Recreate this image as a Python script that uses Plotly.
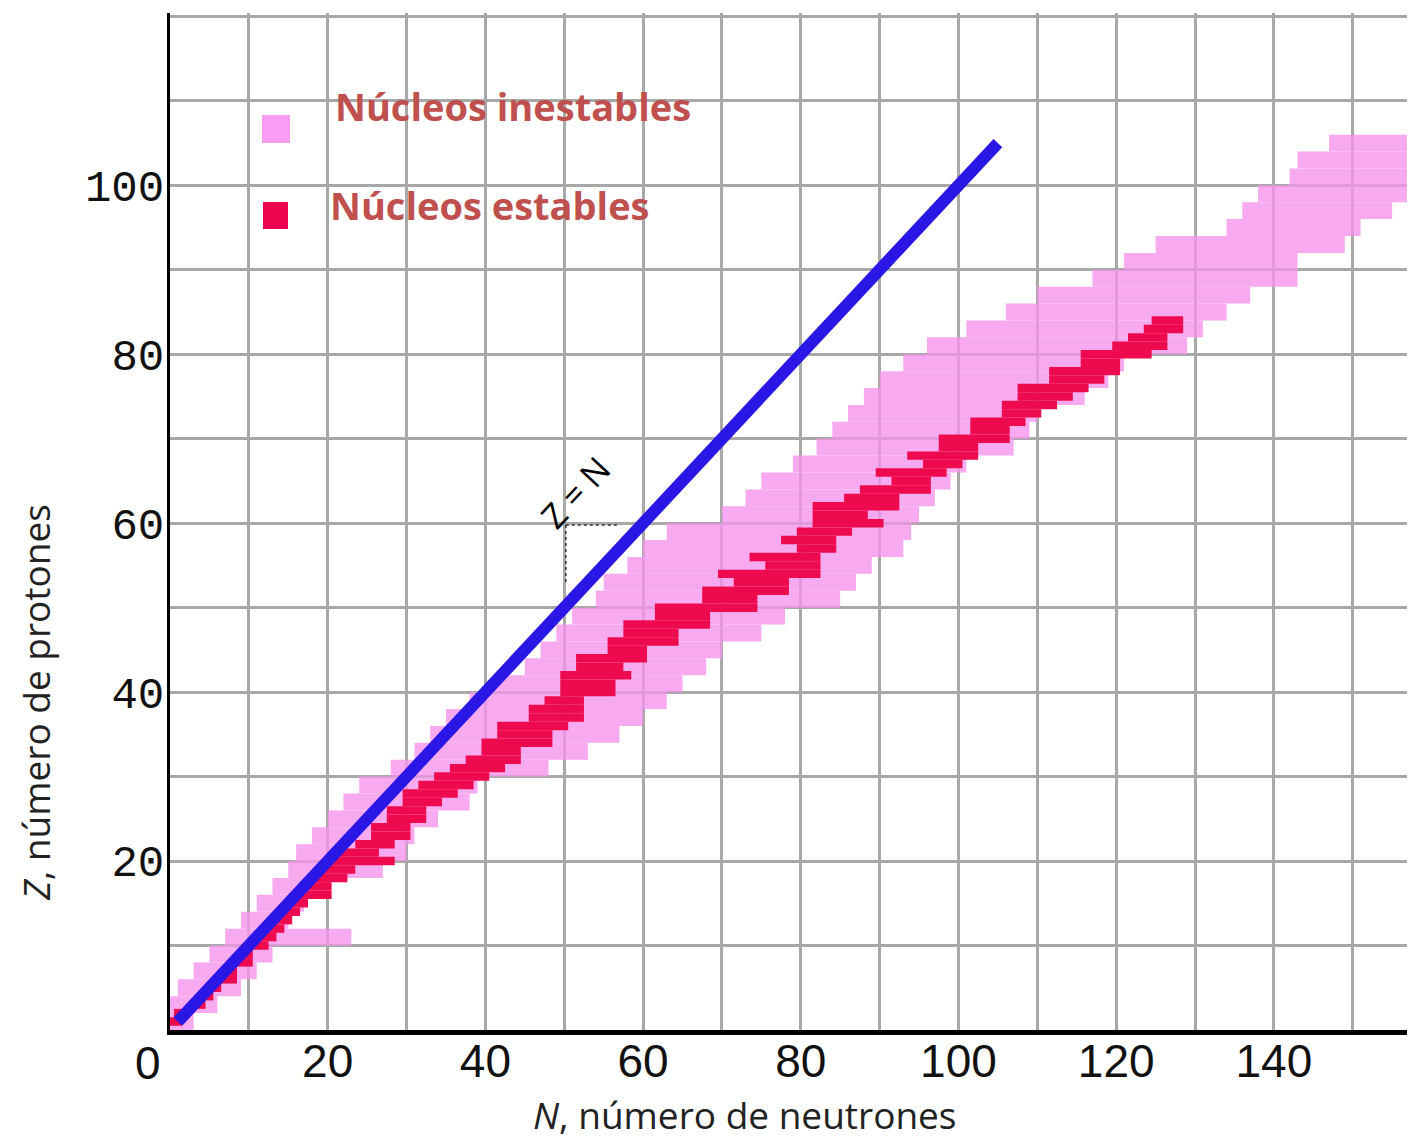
import plotly.graph_objects as go

# ---------------- data ----------------
# Unstable nuclei band: one row per pair of Z values (Z_lo .. Z_lo+2)
unstable_z_lo = [0, 2, 4, 6, 8, 10, 12, 14, 16, 18, 20, 22, 24, 26, 28, 30, 32, 34,
                 36, 38, 40, 42, 44, 46, 48, 50, 52, 54, 56, 58, 60, 62, 64, 66, 68,
                 70, 72, 74, 76, 78, 80, 82, 84, 86, 88, 90, 92, 94, 96, 98, 100, 102, 104]
unstable_n_min = [0, 0, 1, 3, 5, 7, 9, 11, 13, 15, 16, 18, 20, 22, 24, 28, 31, 33,
                  35, 38, 41, 45, 47, 49, 51, 54, 55, 58, 60, 63, 70, 73, 75, 79, 82,
                  84, 86, 88, 90, 93, 96, 101, 106, 110, 117, 121, 125, 134, 136, 138, 142, 143, 147]
unstable_n_max = [3, 6, 9, 11, 13, 23, 15, 17, 20, 27, 30, 31, 34, 38, 39, 48, 53, 57,
                  60, 63, 65, 68, 70, 75, 78, 85, 87, 89, 93, 94, 95, 97, 99, 101, 107,
                  109, 110, 116, 119, 121, 129, 131, 134, 137, 143, 143, 149, 151, 155, 158, 160, 160, 160]

# Stable nuclei: for each Z, lowest and highest N drawn in red
stable_z = list(range(1, 85))
stable_n_min = [0, 1, 3, 4, 5, 6, 7, 8, 9, 10, 11, 12, 13, 14, 15, 16, 17, 18, 20, 20,
                22, 24, 26, 26, 28, 28, 30, 30, 32, 34, 36, 38, 40, 40, 42, 42, 46, 46, 48, 50,
                50, 50, 52, 52, 56, 56, 58, 58, 62, 62, 68, 68, 72, 70, 76, 74, 80, 78, 80, 82,
                82, 82, 86, 88, 92, 90, 96, 94, 98, 98, 102, 102, 106, 106, 108, 108, 112, 112, 116, 116,
                120, 122, 124, 125]
stable_n_max = [1, 2, 4, 5, 6, 8, 8, 10, 10, 12, 13, 14, 15, 16, 17, 20, 20, 22, 23, 28,
                26, 28, 30, 30, 32, 32, 34, 36, 38, 40, 42, 44, 44, 48, 48, 50, 52, 52, 52, 56,
                56, 58, 57, 60, 60, 64, 64, 68, 68, 74, 74, 78, 78, 82, 82, 82, 84, 84, 86, 90,
                88, 92, 92, 96, 96, 98, 100, 102, 102, 106, 106, 108, 110, 112, 114, 116, 118, 120, 120, 124,
                126, 126, 128, 128]

# Z = N reference line
line_n = [1, 105]
line_z = [1, 105]

# axis ticks
x_tickvals = [10, 20, 30, 40, 50, 60, 70, 80, 90, 100, 110, 120, 130, 140, 150]
x_ticktext = ["", "20", "", "40", "", "60", "", "80", "", "100", "", "120", "", "140", ""]
y_tickvals = [10, 20, 30, 40, 50, 60, 70, 80, 90, 100, 110, 120]
y_ticktext = ["", "20", "", "40", "", "60", "", "80", "", "100", "", ""]

# ---------------- styling ----------------
PINK = "#F695EC"
RED = "#EE0A4E"
BLUE = "#2B17E5"
GRID = "#A8A8A8"
LEG_TXT = "#C0504D"
XFONT = "Liberation Sans Narrow, Liberation Sans, Arial"

fig = go.Figure()

fig.add_trace(go.Bar(
    orientation="h",
    y=[z + 1 for z in unstable_z_lo],
    x=[hi - lo for lo, hi in zip(unstable_n_min, unstable_n_max)],
    base=unstable_n_min,
    width=2,
    marker=dict(color=PINK, line=dict(width=0)),
    opacity=0.8,
    name="Núcleos inestables",
    showlegend=False,
    hoverinfo="skip",
))

fig.add_trace(go.Bar(
    orientation="h",
    y=stable_z,
    x=[hi - lo + 1 for lo, hi in zip(stable_n_min, stable_n_max)],
    base=[lo - 0.5 for lo in stable_n_min],
    width=1,
    marker=dict(color=RED, line=dict(width=0)),
    opacity=1,
    name="Núcleos estables",
    showlegend=False,
    hoverinfo="skip",
))

fig.add_trace(go.Scatter(
    x=line_n, y=line_z, mode="lines",
    line=dict(color=BLUE, width=12),
    showlegend=False, hoverinfo="skip",
))

# page body has an 8px margin: figure is placed at (8, 8) in the window
OFF = 8
W, H = 1415 - OFF, 1140 - OFF
L, R, T, B = 170 - OFF, 0, 13 - OFF, 110

fig.update_layout(
    width=W, height=H,
    margin=dict(l=L, r=R, t=T, b=B, pad=0),
    paper_bgcolor="white", plot_bgcolor="white",
    barmode="overlay",
    showlegend=False,
    xaxis=dict(
        range=[0, 157.9], tickmode="array", tickvals=x_tickvals, ticktext=x_ticktext,
        showgrid=True, gridcolor=GRID, gridwidth=3, zeroline=False,
        showline=True, linecolor="black", linewidth=5, ticks="",
        ticklabelstandoff=-13,
        tickfont=dict(family=XFONT, size=46, color="#111"),
        fixedrange=True,
    ),
    yaxis=dict(
        range=[0, 120.4], tickmode="array", tickvals=y_tickvals, ticktext=y_ticktext,
        showgrid=True, gridcolor=GRID, gridwidth=3, zeroline=False,
        showline=True, linecolor="black", linewidth=3, ticks="",
        ticklabelstandoff=-6,
        tickfont=dict(family="Liberation Mono, DejaVu Sans Mono, monospace", size=44, color="#111"),
        fixedrange=True,
    ),
)

def px_to_paper(px, py):
    """page pixel -> paper coordinates"""
    fx, fy = px - OFF, py - OFF
    return (fx - L) / (W - L - R), (H - B - fy) / (H - T - B)

annotations = []
# axis titles
ax, ay = px_to_paper(745, 1114)
annotations.append(dict(xref="paper", yref="paper", x=ax, y=ay, xanchor="center", yanchor="middle",
                        showarrow=False, text="<i>N</i>, número de neutrones",
                        font=dict(family="Open Sans", size=37, color="#222")))
ax, ay = px_to_paper(35, 703)
annotations.append(dict(xref="paper", yref="paper", x=ax, y=ay, xanchor="center", yanchor="middle",
                        showarrow=False, textangle=-90, text="<i>Z</i>, número de protones",
                        font=dict(family="Open Sans", size=37, color="#222")))
# corner "0"
ax, ay = px_to_paper(148, 1063)
annotations.append(dict(xref="paper", yref="paper", x=ax, y=ay, xanchor="center", yanchor="middle",
                        showarrow=False, text="0", font=dict(family=XFONT, size=46, color="#111")))
# legend texts
ax, ay = px_to_paper(333, 106)
annotations.append(dict(xref="paper", yref="paper", x=ax, y=ay, xanchor="left", yanchor="middle",
                        showarrow=False, text="<b>Núcleos inestables</b>",
                        font=dict(family="Open Sans", size=38, color=LEG_TXT)))
ax, ay = px_to_paper(328, 205)
annotations.append(dict(xref="paper", yref="paper", x=ax, y=ay, xanchor="left", yanchor="middle",
                        showarrow=False, text="<b>Núcleos estables</b>",
                        font=dict(family="Open Sans", size=38, color=LEG_TXT)))
# Z = N label along the line
annotations.append(dict(xref="x", yref="y", x=51.4, y=63.7, xanchor="center", yanchor="middle",
                        showarrow=False, textangle=-47,
                        text="Z = N", font=dict(family="Open Sans", size=34, color="black")))
fig.update_layout(annotations=annotations)

shapes = []
x0, y0 = px_to_paper(262, 143); x1, y1 = px_to_paper(290, 115)
shapes.append(dict(type="rect", xref="paper", yref="paper", x0=x0, y0=y0, x1=x1, y1=y1,
                   fillcolor="#FB9CF5", line=dict(width=0)))
x0, y0 = px_to_paper(263, 229); x1, y1 = px_to_paper(288, 202)
shapes.append(dict(type="rect", xref="paper", yref="paper", x0=x0, y0=y0, x1=x1, y1=y1,
                   fillcolor="#EE0550", line=dict(width=0)))
# small dotted right-angle marker near the Z = N label
shapes.append(dict(type="line", xref="x", yref="y", x0=50.2, y0=59.8, x1=56.7, y1=59.8,
                   line=dict(color="#333", width=1.5, dash="dot")))
shapes.append(dict(type="line", xref="x", yref="y", x0=50.2, y0=59.8, x1=50.2, y1=53.0,
                   line=dict(color="#333", width=1.5, dash="dot")))
fig.update_layout(shapes=shapes)

fig.write_html("out.html")
